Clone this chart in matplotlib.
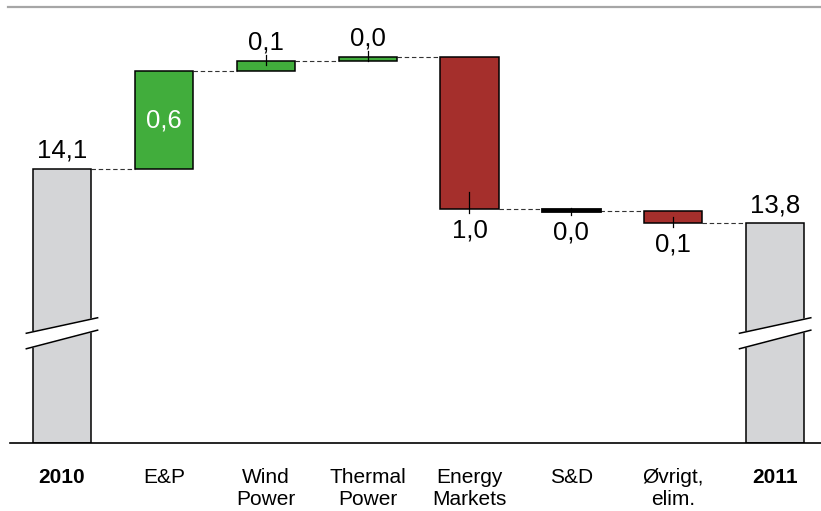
import matplotlib
matplotlib.use("Agg")
import matplotlib.pyplot as plt
from matplotlib.lines import Line2D

plt.rcParams["font.family"] = ["Liberation Sans", "DejaVu Sans"]

# Data (EBITDA bridge)
categories = ["2010", "E&P", "Wind\nPower", "Thermal\nPower", "Energy\nMarkets",
              "S&D", "Øvrigt,\nelim.", "2011"]
start_total = 14.12
changes = [0.63, 0.066, 0.026, -0.983, -0.013, -0.077]

GREEN = "#41ad3c"
RED = "#a52f2c"
GREY = "#d4d5d7"


def fmt(v):
    return f"{abs(v):.1f}".replace(".", ",")


def main():
    fig = plt.figure(figsize=(8.21, 5.11), dpi=100)
    ax = fig.add_axes([10 / 821, 68 / 511, 811 / 821, (511 - 68 - 20) / 511])

    y_bottom = 12.352
    ax.set_ylim(y_bottom, 15.081)
    ax.set_xlim(-0.51, 7.45)
    axh_px = (511 - 68 - 20)
    px = (15.081 - y_bottom) / axh_px  # data units per pixel

    width = 0.57
    vsize = 18.5
    end_total = start_total + sum(changes)

    # Totals
    for i, total in [(0, start_total), (7, end_total)]:
        ax.bar(i, total - y_bottom, bottom=y_bottom, width=width, color=GREY,
               edgecolor="black", linewidth=1.1, zorder=2)
        ax.annotate(fmt(total), (i, total), xytext=(0, 4.5), textcoords="offset points",
                    ha="center", va="bottom", fontsize=vsize)
        # axis break marks
        x0, x1 = i - 0.35, i + 0.35
        up = [13.06, 13.16]
        lo = [12.96, 13.08]
        ax.fill([x0, x1, x1, x0], [lo[0], lo[1], up[1], up[0]], color="white", zorder=3)
        ax.plot([x0, x1], up, color="black", lw=1.1, zorder=4)
        ax.plot([x0, x1], lo, color="black", lw=1.1, zorder=4)

    # Changes
    level = start_total
    leader_in = [0, 4, 4, 17, 3, 6]
    for j, ch in enumerate(changes):
        i = j + 1
        new = level + ch
        col = GREEN if ch > 0 else RED
        lw = 1.1
        if abs(ch) < 0.02 and ch < 0:
            col = "black"
            lw = 2.0
        ax.bar(i, ch, bottom=level, width=width, color=col, edgecolor="black",
               linewidth=lw, zorder=2)
        # connector from previous bar
        ax.plot([i - 1 + width / 2, i - width / 2], [level, level], color="#333333",
                lw=0.8, ls=(0, (4, 2.5)), zorder=1)
        if j == 0:
            ax.text(i, level + ch / 2, fmt(ch), ha="center", va="center",
                    fontsize=vsize, color="white", zorder=5)
        elif ch > 0:
            ax.plot([i, i], [new - leader_in[j] * px, new + 6 * px], color="black",
                    lw=0.9, zorder=5)
            ax.annotate(fmt(ch), (i, new), xytext=(0, 4.5), textcoords="offset points",
                        ha="center", va="bottom", fontsize=vsize)
        else:
            ax.plot([i, i], [new + leader_in[j] * px, new - 4 * px], color="black",
                    lw=0.9, zorder=5)
            ax.annotate(fmt(ch), (i, new), xytext=(0, -6.5), textcoords="offset points",
                        ha="center", va="top", fontsize=vsize)
        level = new
    ax.plot([6 + width / 2, 7 - width / 2], [level, level], color="#333333",
            lw=0.8, ls=(0, (4, 2.5)), zorder=1)

    for s in ["top", "right", "left"]:
        ax.spines[s].set_visible(False)
    ax.spines["bottom"].set_linewidth(1.2)
    ax.set_yticks([])
    ax.set_xticks(range(len(categories)))
    ax.set_xticklabels(categories, fontsize=15, linespacing=1.2)
    ax.tick_params(axis="x", length=0, pad=18)
    for k in (0, 7):
        ax.get_xticklabels()[k].set_fontweight("bold")

    fig.add_artist(Line2D([8 / 821, 1.0], [1 - 7 / 511, 1 - 7 / 511],
                          color="#a6a6a6", lw=1.6))

    fig.savefig("out.png", dpi=100)


if __name__ == "__main__":
    main()
